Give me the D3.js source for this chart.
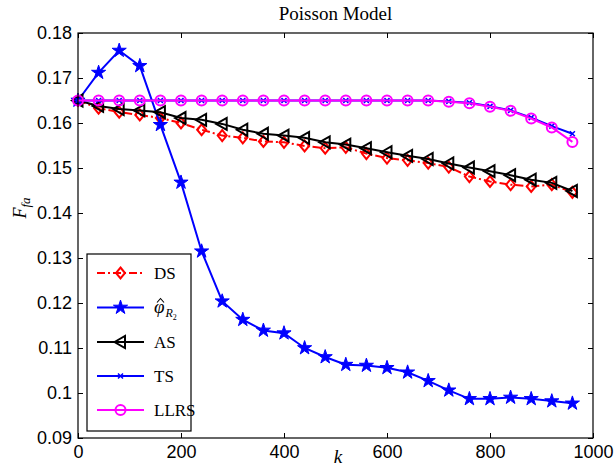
<!DOCTYPE html>
<html>
<head>
<meta charset="utf-8">
<script src="https://cdn.jsdelivr.net/npm/d3@7"></script>
<style>
  html, body { margin: 0; padding: 0; background: #fff; }
  svg { display: block; }
  .tick text { font-family: "Liberation Sans", Arial, sans-serif; font-size: 18px; fill: #000; }
</style>
</head>
<body>
<svg id="chart" width="615" height="469"></svg>
<script>
// Sample sizes k
const kValues = [0, 40, 80, 120, 160, 200, 240, 280, 320, 360, 400, 440, 480,
                 520, 560, 600, 640, 680, 720, 760, 800, 840, 880, 920, 960];

// False-alarm probability per detector
const dsValues = [0.1650, 0.1633, 0.1624, 0.1618, 0.1611, 0.1600, 0.1585, 0.1572, 0.1567,
                  0.1559, 0.1557, 0.1549, 0.1544, 0.1546, 0.1532, 0.1522, 0.1517, 0.1511,
                  0.1502, 0.1481, 0.1470, 0.1463, 0.1459, 0.1463, 0.1446];
const phiValues = [0.1650, 0.1712, 0.1761, 0.1727, 0.1596, 0.1468, 0.1315, 0.1204, 0.1163,
                   0.1139, 0.1133, 0.1100, 0.1080, 0.1063, 0.1061, 0.1056, 0.1046, 0.1027,
                   0.1006, 0.0987, 0.0987, 0.0990, 0.0987, 0.0982, 0.0977];
const asValues = [0.1650, 0.1638, 0.1631, 0.1628, 0.1624, 0.1611, 0.1607, 0.1598, 0.1585,
                  0.1576, 0.1572, 0.1567, 0.1557, 0.1552, 0.1544, 0.1535, 0.1527, 0.1520,
                  0.1510, 0.1501, 0.1493, 0.1484, 0.1474, 0.1467, 0.1449];
const tsValues = [0.1650, 0.1650, 0.1650, 0.1650, 0.1650, 0.1650, 0.1650, 0.1650, 0.1650,
                  0.1650, 0.1650, 0.1650, 0.1650, 0.1650, 0.1650, 0.1650, 0.1650, 0.1650,
                  0.1648, 0.1645, 0.1637, 0.1628, 0.1612, 0.1593, 0.1576];
const llrsValues = [0.1650, 0.1650, 0.1650, 0.1650, 0.1650, 0.1650, 0.1650, 0.1650, 0.1650,
                    0.1650, 0.1650, 0.1650, 0.1650, 0.1650, 0.1650, 0.1650, 0.1650, 0.1650,
                    0.1647, 0.1644, 0.1636, 0.1627, 0.1610, 0.1590, 0.1558];

const xTicks = [0, 200, 400, 600, 800, 1000];
const xTickLabels = ["0", "200", "400", "600", "800", "1000"];
const yTicks = [0.09, 0.10, 0.11, 0.12, 0.13, 0.14, 0.15, 0.16, 0.17, 0.18];
const yTickLabels = ["0.09", "0.1", "0.11", "0.12", "0.13", "0.14", "0.15", "0.16", "0.17", "0.18"];

const titleText = "Poisson Model";

const svg = d3.select("#chart");
const plotLeft = 78, plotRight = 593, plotTop = 33, plotBottom = 438;

const x = d3.scaleLinear().domain([0, 1000]).range([plotLeft, plotRight]);
const y = d3.scaleLinear().domain([0.09, 0.18]).range([plotBottom, plotTop]);

// Marker shapes
const diamondPath = "M0,-5.5L4.5,0L0,5.5L-4.5,0Z";
const trianglePath = "M-6,0L4.5,-6L4.5,6Z";
const starPath = d3.symbol(d3.symbolStar, 62)();
const crossPath = "M-2.5,-2.5L2.5,2.5M-2.5,2.5L2.5,-2.5";

const series = [
  { name: "DS", values: dsValues, color: "#ff0000", dash: "8,3,2,3", marker: "diamond" },
  { name: "phi", values: phiValues, color: "#0000ff", dash: null, marker: "star" },
  { name: "AS", values: asValues, color: "#000000", dash: null, marker: "triangle" },
  { name: "TS", values: tsValues, color: "#0000ff", dash: null, marker: "cross" },
  { name: "LLRS", values: llrsValues, color: "#ff00ff", dash: null, marker: "circle" }
];

function drawMarker(g, type, color) {
  if (type === "diamond") {
    g.append("path").attr("d", diamondPath).attr("fill", "none").attr("stroke", color).attr("stroke-width", 2);
  } else if (type === "star") {
    g.append("path").attr("d", starPath).attr("fill", color).attr("stroke", color).attr("stroke-width", 1);
  } else if (type === "triangle") {
    g.append("path").attr("d", trianglePath).attr("fill", "none").attr("stroke", color).attr("stroke-width", 2);
  } else if (type === "cross") {
    g.append("path").attr("d", crossPath).attr("fill", "none").attr("stroke", color).attr("stroke-width", 1.5);
  } else if (type === "circle") {
    g.append("circle").attr("r", 5).attr("fill", "none").attr("stroke", color).attr("stroke-width", 2);
  }
}

// Axes with inward ticks on all four sides
const fmtX = d => xTickLabels[xTicks.indexOf(d)];
const fmtY = d => yTickLabels[yTicks.findIndex(t => Math.abs(t - d) < 1e-9)];

svg.append("g").attr("transform", `translate(0,${plotBottom})`)
  .call(d3.axisBottom(x).tickValues(xTicks).tickFormat(fmtX).tickSize(-5).tickPadding(7))
  .call(g => g.select(".domain").remove());
svg.append("g").attr("transform", `translate(0,${plotTop})`)
  .call(d3.axisTop(x).tickValues(xTicks).tickFormat("").tickSize(-5))
  .call(g => g.select(".domain").remove());
svg.append("g").attr("transform", `translate(${plotLeft},0)`)
  .call(d3.axisLeft(y).tickValues(yTicks).tickFormat(fmtY).tickSize(-5).tickPadding(6))
  .call(g => g.select(".domain").remove());
svg.append("g").attr("transform", `translate(${plotRight},0)`)
  .call(d3.axisRight(y).tickValues(yTicks).tickFormat("").tickSize(-5))
  .call(g => g.select(".domain").remove());

svg.selectAll(".tick line").attr("stroke", "#000").attr("stroke-width", 1);

// Series lines and markers
const line = d3.line().x((d, i) => x(kValues[i])).y(d => y(d));
const plot = svg.append("g");
series.forEach(s => {
  plot.append("path")
    .datum(s.values)
    .attr("d", line)
    .attr("fill", "none")
    .attr("stroke", s.color)
    .attr("stroke-width", 2)
    .attr("stroke-dasharray", s.dash);
  s.values.forEach((v, i) => {
    const g = plot.append("g").attr("transform", `translate(${x(kValues[i])},${y(v)})`);
    drawMarker(g, s.marker, s.color);
  });
});

// Plot frame
svg.append("rect")
  .attr("x", plotLeft).attr("y", plotTop)
  .attr("width", plotRight - plotLeft).attr("height", plotBottom - plotTop)
  .attr("fill", "none").attr("stroke", "#000").attr("stroke-width", 1.2);

// Title and axis labels
svg.append("text")
  .attr("x", (plotLeft + plotRight) / 2).attr("y", 20)
  .attr("text-anchor", "middle")
  .attr("font-family", "Liberation Serif, Times New Roman, serif")
  .attr("font-size", 19)
  .text(titleText);

svg.append("text")
  .attr("x", 338).attr("y", 463)
  .attr("text-anchor", "middle")
  .attr("font-family", "Liberation Serif, Times New Roman, serif")
  .attr("font-style", "italic")
  .attr("font-size", 19)
  .text("k");

const yLabel = svg.append("text")
  .attr("transform", "translate(26,208) rotate(-90)")
  .attr("text-anchor", "middle")
  .attr("font-family", "Liberation Serif, Times New Roman, serif")
  .attr("font-style", "italic")
  .attr("font-size", 18);
yLabel.append("tspan").text("F");
yLabel.append("tspan").attr("dy", 4).attr("font-size", 13).text("fa");

// Legend
const legend = svg.append("g");
legend.append("rect")
  .attr("x", 87).attr("y", 254).attr("width", 104).attr("height", 177)
  .attr("fill", "#fff").attr("stroke", "#000").attr("stroke-width", 1.2);

const legendRows = [273, 307.5, 342, 376, 410];
series.forEach((s, i) => {
  const ly = legendRows[i];
  legend.append("line")
    .attr("x1", 97).attr("x2", 144).attr("y1", ly).attr("y2", ly)
    .attr("stroke", s.color).attr("stroke-width", 2)
    .attr("stroke-dasharray", s.dash);
  const g = legend.append("g").attr("transform", `translate(120.5,${ly})`);
  drawMarker(g, s.marker, s.color);
  if (s.name === "phi") {
    // italic phi with subscript R and sub-subscript 2; the hat accent is a small stroke
    const t = legend.append("text")
      .attr("x", 154).attr("y", ly + 5)
      .attr("font-family", "Liberation Serif, Times New Roman, serif")
      .attr("font-size", 19);
    t.append("tspan").attr("font-style", "italic").text("\u03C6");
    t.append("tspan").attr("font-style", "italic").attr("font-size", 12).attr("dx", 1).attr("dy", 4).text("R");
    t.append("tspan").attr("font-size", 8).attr("dy", 3).text("2");
    legend.append("path")
      .attr("d", `M${157},${ly - 5} L${160.5},${ly - 9} L${164},${ly - 5}`)
      .attr("fill", "none").attr("stroke", "#000").attr("stroke-width", 1.1);
  } else {
    legend.append("text")
      .attr("x", 154).attr("y", ly + 6)
      .attr("font-family", "Liberation Serif, Times New Roman, serif")
      .attr("font-size", 17)
      .text(s.name);
  }
});
</script>
</body>
</html>
